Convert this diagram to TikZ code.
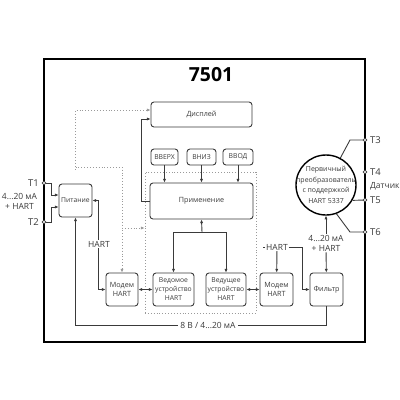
\documentclass[tikz,border=0pt]{standalone}
\usepackage{fontspec}
\setmainfont{Open Sans}
\usetikzlibrary{arrows.meta,calc}
\definecolor{linec}{HTML}{3A3A3A}
\definecolor{dotc}{HTML}{9A9A9A}
\tikzset{%
  block/.style={%
    draw=linec,%
    rounded corners=3bp,%
    line width=0.9bp,%
    align=center,%
    inner sep=0pt,%
    font=\fontsize{7.2}{8.4}\selectfont},
  btn/.style={%
    block,%
    minimum height=16bp,%
    font=\fontsize{6.8}{8}\selectfont},
  term/.style={%
    circle,%
    draw=linec,%
    fill=white,%
    line width=0.7bp,%
    inner sep=0pt,%
    minimum size=3.6bp},
  wire/.style={draw=linec, line width=0.9bp},
  dots/.style={draw=dotc, dotted, line width=0.9bp},
  lbl/.style={fill=white, inner sep=1bp, font=\fontsize{8.5}{10}\selectfont},
  tlbl/.style={inner sep=0pt, font=\fontsize{9.5}{10}\selectfont}
}

\begin{document}
\begin{tikzpicture}[x=1bp, y=-1bp, >={Latex[length=3.6bp,width=3.2bp]},
            every node/.style={text=linec}]
  \useasboundingbox (0,0) rectangle (400,400);
  % blocks
  \node [block, minimum width=101bp, minimum height=25bp] (disp) at (201.5,114.5) {Дисплей};
  \node [btn, minimum width=27bp] (up) at (164.5,157) {ВВЕРХ};
  \node [btn, minimum width=29bp] (dn) at (201.5,157) {ВНИЗ};
  \node [btn, minimum width=30bp] (ent) at (238,157) {ВВОД};
  \node [block, minimum width=103bp, minimum height=36bp] (app) at (201.5,201) {Применение};
  \node [block, minimum width=33bp, minimum height=33bp, font=\fontsize{6.8}{8}\selectfont] (pw) at (75.5,200.5) {Питание};
  \node [block, minimum width=32bp, minimum height=33bp] (mod1) at (122,289.5) {Модем\\HART};
  \node [block, minimum width=41bp, minimum height=33bp, font=\fontsize{6.8}{9}\selectfont] (slave) at (173.5,289.5) {Ведомое\\устройство\\HART};
  \node [block, minimum width=40bp, minimum height=33bp, font=\fontsize{6.8}{9}\selectfont] (master) at (226,289.5) {Ведущее\\устройство\\HART};
  \node [block, minimum width=33bp, minimum height=33bp] (mod2) at (276.5,289.5) {Модем\\HART};
  \node [block, minimum width=33bp, minimum height=33bp] (filt) at (326.5,289.5) {Фильтр};
  \node [dots, minimum width=111bp, minimum height=141bp, inner sep=0pt] (grp) at (200.5,242.5) {};
  \node [circle, draw=black, line width=1.4bp, minimum size=60bp, inner sep=0pt] (sens) at (326,185) {};
  \node [align=center, inner sep=0pt, font=\fontsize{7}{10.6}\selectfont] (senstxt) at (sens.center) {Первичный\\преобразователь\\с поддержкой\\HART 5337};

  % labels
  \node [font=\bfseries\fontsize{19.5}{20}\selectfont, text=black] (title) at (211,75) {7501};
  \node [lbl] (hart2) at (277,247) {HART};
  \node [lbl, align=center] (cur2) at (326,243) {4...20 мА\\+ HART};
  \node [lbl, align=center, fill=none] (cur1) at (19.5,201) {4...20 мА\\+ HART};

  % wires
  \draw [wire,->] (app.west) -- ++(-8,0) |- ($(disp.west)+(0,4.5)$);
  \foreach \b in {up,dn,ent}
    \draw [wire,->] (\b) -- (\b |- app.north);
  \coordinate (jn) at (202,232);
  \draw [wire,->] (jn) -- (app.south);
  \draw [wire,->] (jn) -| (slave.north);
  \draw [wire,->] (jn) -| (master.north);
  \draw [wire,<->] (mod1) -- (slave);
  \draw [wire,<->] (master) -- (mod2);
  \draw [wire,<->] (pw.east) -- ++(6,0) |- (mod1.west);
  \draw [wire,->] (filt.south) -- ++(0,19) -| (pw.south);
  \draw [wire,->] (hart2) -- (mod2);
  \draw [wire] (hart2.west) -- ++(-2.5,0);
  \draw [wire,->] (hart2.east) -- ++(13,0) |- (filt.west);
  \draw [wire,->] (cur2) -- (sens);
  \draw [wire,->] (cur2) -- (filt);
  \node [lbl] (hart1) at (99,244) {HART};
  \node [lbl, inner sep=2.5bp] (pwr) at (208,325) {8 В / 4...20 мА};

  % dotted links
  \coordinate (dj1) at (75.5,167);
  \coordinate (dj2) at (122,228);
  \draw [dots,->,shorten <=14bp] (pw.north) |- ($(disp.west)+(0,-4.5)$);
  \draw [dots,->] (dj1) -| (mod1.north);
  \draw [dots,->] (dj2) -- (dj2 -| grp.west);

  % housing and terminals
  \draw [black, line width=2bp] (44,59) rectangle (365,342);
  \node [term] (t1) at (44,183) {};
  \node [term] (t2) at (44,222) {};
  \node [term] (t3) at (365,140) {};
  \node [term] (t4) at (365,172) {};
  \node [term] (t5) at (365,200) {};
  \node [term] (t6) at (365,232) {};
  \draw [wire,->] (t1) -- ++(7,0) |- ($(pw.west)+(0,-5.5)$);
  \draw [wire,->] (t2) -- ++(7,0) |- ($(pw.west)+(0,6.5)$);
  \draw [wire] (t3) -- ++(-15,0) -- (sens.62);
  \draw [wire] (t5) -- (sens.-30);
  \draw [wire] (t6) -- ++(-15,0) -- (sens.-70);
  \node [tlbl, anchor=east] at (39,183) {T1};
  \node [tlbl, anchor=east] at (39,222) {T2};
  \node [tlbl, anchor=west] at (370,140) {T3};
  \node [tlbl, anchor=west] at (370,172) {T4};
  \node [tlbl, anchor=west] at (370,200) {T5};
  \node [tlbl, anchor=west] at (370,232) {T6};
  \node [tlbl, anchor=west, font=\fontsize{8.5}{9}\selectfont] at (370,186) {Датчик};
\end{tikzpicture}
\end{document}
